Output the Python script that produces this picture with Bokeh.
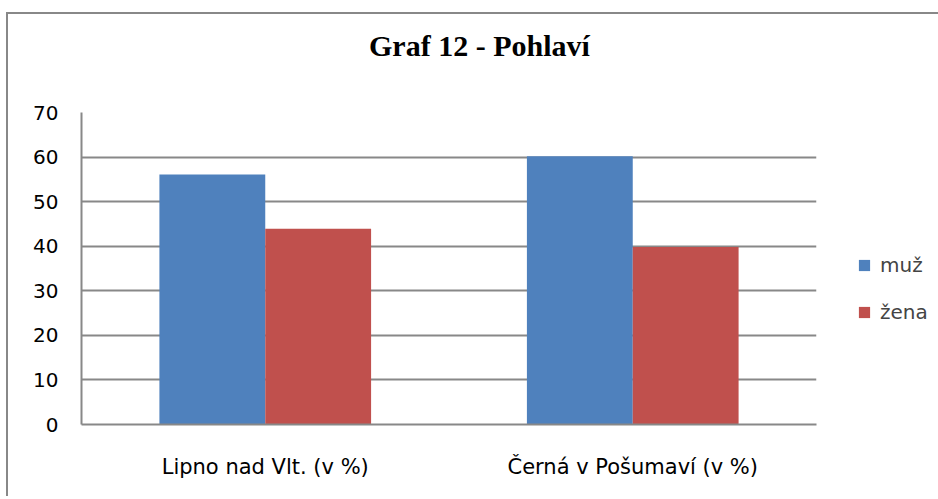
from bokeh.plotting import figure
from bokeh.models import FactorRange, Range1d, Legend, LegendItem, ColumnDataSource, FixedTicker, Div
from bokeh.layouts import column
from bokeh.transform import dodge
from bokeh.embed import file_html
from bokeh.resources import INLINE

title_text = "Graf 12 - Pohlaví"
categories = ["Lipno nad Vlt. (v %)", "Černá v Pošumaví (v %)"]
series_names = ["muž", "žena"]
muz = [56.1, 60.2]
zena = [43.9, 39.8]
y_ticks = [0, 10, 20, 30, 40, 50, 60, 70]

p = figure(frame_width=735, frame_height=312, output_backend="svg", toolbar_location=None,
           x_range=FactorRange(*categories), y_range=Range1d(0, 70),
           min_border_left=73, min_border_right=122, min_border_top=28, min_border_bottom=72)
p.outline_line_color = None
p.background_fill_color = "white"
p.border_fill_color = "white"

src = ColumnDataSource(dict(cat=categories, muz=muz, zena=zena))
r1 = p.vbar(x=dodge("cat", -0.144, range=p.x_range), top="muz", width=0.288, source=src,
            fill_color="#4F81BD", line_color=None)
r2 = p.vbar(x=dodge("cat", 0.144, range=p.x_range), top="zena", width=0.288, source=src,
            fill_color="#C0504D", line_color=None)

p.yaxis.ticker = FixedTicker(ticks=y_ticks)
p.ygrid.ticker = FixedTicker(ticks=y_ticks)
p.ygrid.grid_line_color = "#888888"
p.ygrid.grid_line_width = 2
p.xgrid.grid_line_color = None

for ax in (p.xaxis, p.yaxis):
    ax.axis_line_color = "#888888"
    ax.axis_line_width = 2
    ax.major_tick_line_color = None
    ax.minor_tick_line_color = None
    ax.major_tick_out = 0
    ax.major_tick_in = 0
    ax.major_label_text_font = "DejaVu Sans"
    ax.major_label_text_color = "black"

p.yaxis.major_label_text_font_size = "20px"
p.yaxis.major_label_standoff = 23
p.xaxis.major_label_text_font_size = "21px"
p.xaxis.major_label_standoff = 30

legend = Legend(items=[LegendItem(label=series_names[0], renderers=[r1]),
                       LegendItem(label=series_names[1], renderers=[r2])],
                location=(41, 100), orientation="vertical")
legend.label_text_font = "DejaVu Sans"
legend.label_text_font_size = "20px"
legend.glyph_width = 14
legend.glyph_height = 14
legend.label_height = 20
legend.spacing = 23
legend.padding = 0
legend.margin = 0
legend.label_standoff = 9
legend.border_line_color = None
legend.background_fill_alpha = 0
p.add_layout(legend, "right")

title_div = Div(text=title_text, width=930, height=60,
                styles={"font-family": "Liberation Serif", "font-size": "30px", "font-weight": "bold",
                        "color": "black", "padding-top": "6px", "padding-left": "356px",
                        "white-space": "nowrap", "box-sizing": "border-box"})

layout = column(title_div, p, spacing=0,
                styles={"margin-left": "6px", "margin-top": "12px",
                        "border-left": "2px solid #888888", "border-top": "2px solid #888888"})

open("out.html", "w").write(file_html(layout, INLINE))
